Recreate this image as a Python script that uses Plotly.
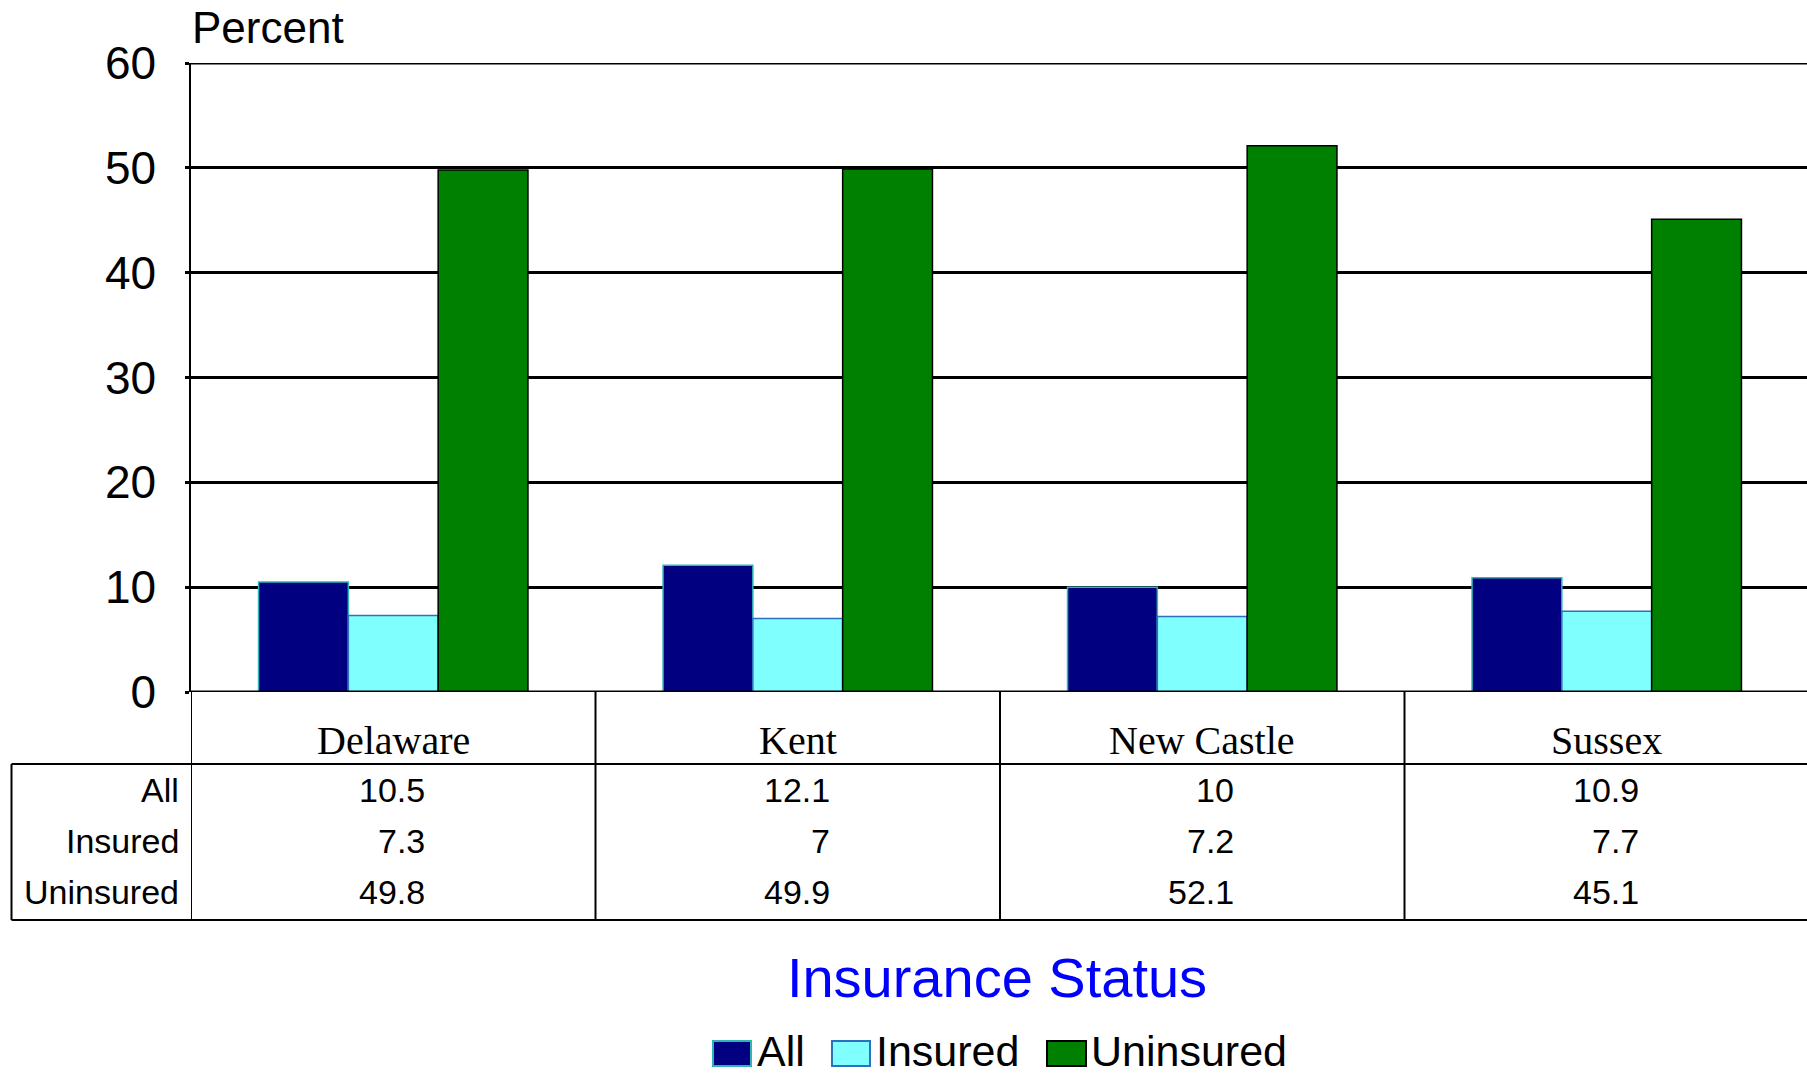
import plotly.graph_objects as go

# ---- data ----
categories = ["Delaware", "Kent", "New Castle", "Sussex"]
series_names = ["All", "Insured", "Uninsured"]
all_vals = [10.5, 12.1, 10, 10.9]
insured_vals = [7.3, 7, 7.2, 7.7]
uninsured_vals = [49.8, 49.9, 52.1, 45.1]
y_ticks = [0, 10, 20, 30, 40, 50, 60]

series_values = [all_vals, insured_vals, uninsured_vals]
fills = ["#000080", "#80FFFF", "#008000"]
outlines = ["#2FB5B5", "#2F6FBF", "#000000"]

W, H = 1807, 1076
ML, MR, MT = 191, 0, 63
PLOT_BOTTOM = 692
MB = H - PLOT_BOTTOM
PW = W - ML - MR
PH = PLOT_BOTTOM - MT
CAT_W = 404.5  # pixel width of one category in the reference
X_MAX = -0.5 + PW / CAT_W


def py(Y):
    return (PLOT_BOTTOM - Y) / PH


def pxx(X):
    return (X - ML) / PW


SANS = "Liberation Sans, Arial, sans-serif"
SERIF = "Liberation Serif, Times New Roman, serif"

fig = go.Figure()
for name, vals, fc, lc in zip(series_names, series_values, fills, outlines):
    fig.add_trace(go.Bar(
        x=categories, y=vals, name=name,
        marker=dict(color=fc, line=dict(color=lc, width=1.5)),
        showlegend=False,
    ))

shapes = []
# top gridline (plotly drops the grid line at the range edge)
shapes.append(dict(type="line", xref="paper", yref="y", x0=0, x1=1, y0=y_ticks[-1], y1=y_ticks[-1],
                   line=dict(color="black", width=3), layer="below"))
# category row dividers and table verticals
for b in [-0.5, 0.5, 1.5, 2.5]:
    shapes.append(dict(type="line", xref="x", yref="paper", x0=b, x1=b,
                       y0=py(692), y1=py(920), line=dict(color="black", width=2)))
# table horizontals
for Yl in [764, 920]:
    shapes.append(dict(type="line", xref="paper", yref="paper", x0=pxx(11.5), x1=1.0,
                       y0=py(Yl), y1=py(Yl), line=dict(color="black", width=2)))
shapes.append(dict(type="line", xref="paper", yref="paper", x0=pxx(11.5), x1=pxx(11.5),
                   y0=py(764), y1=py(920), line=dict(color="black", width=2)))
# zero line
shapes.append(dict(type="line", xref="paper", yref="y", x0=0, x1=1, y0=0, y1=0,
                   line=dict(color="black", width=3), layer="above"))

annotations = []
annotations.append(dict(text="Percent", xref="paper", yref="paper", x=0, y=py(28),
                        xanchor="left", yanchor="middle", showarrow=False, borderpad=0,
                        font=dict(family=SANS, size=44, color="black")))
for c in categories:
    annotations.append(dict(text=c, xref="x", yref="paper", x=c, y=py(740),
                            xanchor="center", yanchor="middle", showarrow=False,
                            font=dict(family=SERIF, size=40, color="black")))
row_y = [790, 841, 892]
for name, vals, Yr in zip(series_names, series_values, row_y):
    annotations.append(dict(text=name, xref="paper", yref="paper", x=pxx(181), y=py(Yr),
                            xanchor="right", yanchor="middle", showarrow=False,
                            font=dict(family=SANS, size=34, color="black")))
    for c, v in zip(categories, vals):
        annotations.append(dict(text=f"{v:g}", xref="x", yref="paper", x=c, y=py(Yr),
                                xshift=34, xanchor="right", yanchor="middle", showarrow=False,
                                font=dict(family=SANS, size=34, color="black")))

# manual legend
legend_items = [(713, 751, 756), (832, 870, 875), (1047, 1086, 1090)]
for (x0, x1, tx), name, fc, lc in zip(legend_items, series_names, fills, outlines):
    shapes.append(dict(type="rect", xref="paper", yref="paper", x0=pxx(x0), x1=pxx(x1),
                       y0=py(1066), y1=py(1041), fillcolor=fc, line=dict(color=lc, width=2)))
    annotations.append(dict(text=name, xref="paper", yref="paper", x=pxx(tx), y=py(1051),
                            xanchor="left", yanchor="middle", showarrow=False, borderpad=0,
                            font=dict(family=SANS, size=43, color="black")))

fig.update_layout(
    width=W, height=H,
    margin=dict(l=ML, r=MR, t=MT, b=MB, pad=0),
    paper_bgcolor="white", plot_bgcolor="white",
    barmode="group", bargap=0.334, bargroupgap=0,
    title=dict(text="Insurance Status", x=997 / W, xref="container",
               y=1 - 977 / H, yref="container", xanchor="center", yanchor="middle",
               font=dict(family=SANS, size=56, color="#0000FF")),
    xaxis=dict(range=[-0.5, X_MAX], showticklabels=False, showgrid=False, zeroline=False,
               showline=False, ticks=""),
    yaxis=dict(range=[0, 60], tickvals=y_ticks, showgrid=True, gridcolor="black", gridwidth=3,
               zeroline=False, showline=True, linecolor="black", linewidth=1.5,
               ticks="outside", ticklen=4, tickwidth=3, tickcolor="black",
               ticklabelstandoff=20,
               tickfont=dict(family=SANS, size=46, color="black")),
    shapes=shapes, annotations=annotations, showlegend=False,
)

# remove the browser's default page margin so the figure fills the 1807x1076 window
fig.write_html(
    "out.html",
    config={"displayModeBar": False},
    post_script="document.body.style.margin='0';document.body.style.overflow='hidden';",
)
